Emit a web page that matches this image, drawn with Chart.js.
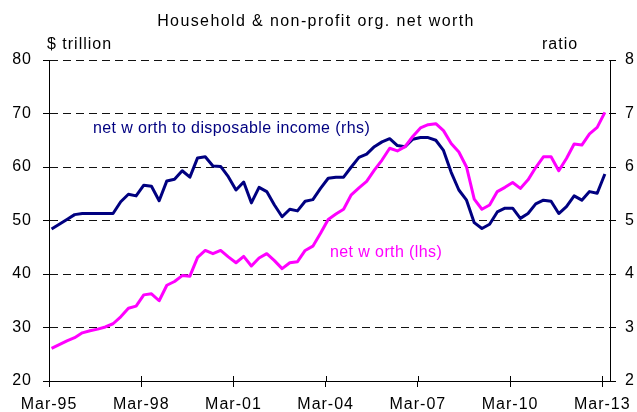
<!DOCTYPE html>
<html>
<head>
<meta charset="utf-8">
<script src="https://cdn.jsdelivr.net/npm/chart.js@4/dist/chart.umd.min.js"></script>
<style>
  html, body { margin: 0; padding: 0; background: #fff; }
  #wrap { width: 637px; height: 412px; }
</style>
</head>
<body>
<div id="wrap"><canvas id="c" width="637" height="412"></canvas></div>
<script>
// ---- data (quarterly, Mar-95 .. Mar-13) ----
const years = ['95','96','97','98','99','00','01','02','03','04','05','06','07','08','09','10','11','12','13'];
const quarterMonths = ['Mar','Jun','Sep','Dec'];
const quarters = [];
years.forEach(y => quarterMonths.forEach(m => { if (quarters.length < 73) quarters.push(m + '-' + y); }));

// Net worth, $ trillion (lhs)
const netWorth = [26.1, 26.8, 27.5, 28.1, 29.0, 29.4, 29.7, 30.1, 30.7, 32.0,
                  33.6, 34.0, 36.1, 36.3, 35.0, 37.9, 38.6, 39.7, 39.6, 43.1,
                  44.4, 43.8, 44.4, 43.2, 42.1, 43.3, 41.5, 43.0, 43.8, 42.5,
                  41.0, 42.1, 42.3, 44.4, 45.2, 47.6, 50.2, 51.2, 52.1, 54.8,
                  56.1, 57.3, 59.4, 61.3, 63.5, 63.0, 63.8, 65.7, 67.3, 67.9,
                  68.1, 66.8, 64.4, 62.8, 60.0, 54.0, 52.1, 52.9, 55.4, 56.2,
                  57.1, 56.0, 57.6, 59.9, 61.9, 61.9, 59.3, 61.6, 64.3, 64.1,
                  66.2, 67.4, 70.2];

// Net worth to disposable income ratio (rhs)
const ratio = [4.84, 4.93, 5.02, 5.11, 5.13, 5.13, 5.13, 5.13, 5.13, 5.35,
               5.49, 5.46, 5.66, 5.64, 5.37, 5.74, 5.77, 5.93, 5.81, 6.17,
               6.19, 6.02, 6.01, 5.82, 5.57, 5.72, 5.33, 5.62, 5.54, 5.29,
               5.07, 5.21, 5.18, 5.36, 5.39, 5.60, 5.79, 5.81, 5.81, 6.00,
               6.18, 6.24, 6.38, 6.47, 6.53, 6.40, 6.38, 6.52, 6.55, 6.55,
               6.50, 6.31, 5.90, 5.57, 5.38, 4.96, 4.85, 4.93, 5.16, 5.23,
               5.23, 5.04, 5.13, 5.31, 5.38, 5.36, 5.13, 5.26, 5.46, 5.38,
               5.54, 5.51, 5.87];

const xTickLabels = ['Mar-95', 'Mar-98', 'Mar-01', 'Mar-04', 'Mar-07', 'Mar-10', 'Mar-13'];
const leftTicks = [20, 30, 40, 50, 60, 70, 80];
const rightTicks = [2, 3, 4, 5, 6, 7, 8];

const titleText = 'Household & non-profit org. net worth';
const leftUnit = '$ trillion';
const rightUnit = 'ratio';
const ratioLabel = 'net w orth to disposable income (rhs)';
const netWorthLabel = 'net w orth (lhs)';

// x position in months from Mar-95 (end of quarter month ~ +1)
const monthPos = i => 3 * i + 1;
const tickMonth = k => 36 * k;

const FONT = '"Liberation Sans", Arial, sans-serif';

const overlay = {
  id: 'overlay',
  beforeDraw(chart) {
    chart.ctx.letterSpacing = '1px';
  },
  afterDraw(chart) {
    const ctx = chart.ctx;
    const area = chart.chartArea;
    const xs = chart.scales.x;
    ctx.save();
    // x tick marks crossing into the plot
    ctx.strokeStyle = '#000';
    ctx.lineWidth = 1;
    ctx.beginPath();
    xTickLabels.forEach((_, k) => {
      const px = Math.round(xs.getPixelForValue(tickMonth(k))) + 0.5;
      ctx.moveTo(px, area.bottom - 5);
      ctx.lineTo(px, area.bottom);
    });
    ctx.stroke();

    ctx.fillStyle = '#000';
    ctx.textBaseline = 'alphabetic';
    ctx.font = '16px ' + FONT;
    ctx.letterSpacing = '1.4px';
    ctx.textAlign = 'center';
    ctx.fillText(titleText, 316, 26);
    ctx.letterSpacing = '1px';
    ctx.textAlign = 'left';
    ctx.fillText(leftUnit, 47, 49);
    ctx.fillText(rightUnit, 542, 49);

    ctx.letterSpacing = '0.4px';
    ctx.fillStyle = '#000080';
    ctx.fillText(ratioLabel, 93, 133);
    ctx.fillStyle = '#FF00FF';
    ctx.fillText(netWorthLabel, 330, 257);
    ctx.restore();
  }
};

new Chart(document.getElementById('c'), {
  type: 'line',
  data: {
    datasets: [
      {
        label: netWorthLabel,
        data: netWorth.map((v, i) => ({ x: monthPos(i), y: v })),
        borderColor: '#FF00FF',
        backgroundColor: '#FF00FF',
        borderWidth: 3,
        pointRadius: 0,
        tension: 0,
        borderJoinStyle: 'round',
        yAxisID: 'y'
      },
      {
        label: ratioLabel,
        data: ratio.map((v, i) => ({ x: monthPos(i), y: v })),
        borderColor: '#000080',
        backgroundColor: '#000080',
        borderWidth: 3,
        pointRadius: 0,
        tension: 0,
        borderJoinStyle: 'round',
        yAxisID: 'y1'
      }
    ]
  },
  options: {
    responsive: false,
    devicePixelRatio: 1,
    animation: false,
    events: [],
    layout: { padding: { top: 60, left: 0, right: 0, bottom: 0 } },
    plugins: {
      legend: { display: false },
      title: { display: false },
      tooltip: { enabled: false }
    },
    scales: {
      x: {
        type: 'linear',
        min: 0,
        max: 219,
        afterBuildTicks: s => { s.ticks = xTickLabels.map((_, k) => ({ value: tickMonth(k) })); },
        afterFit: s => { s.height = 31; },
        ticks: {
          autoSkip: false,
          maxRotation: 0,
          padding: 8,
          color: '#000',
          font: { family: FONT, size: 16 },
          callback: (v) => xTickLabels[Math.round(v / 36)]
        },
        grid: { display: true, drawOnChartArea: false, drawTicks: true, tickLength: 6, color: '#000', tickColor: '#000' },
        border: { display: true, color: '#000', width: 1 }
      },
      y: {
        position: 'left',
        min: 20,
        max: 80,
        afterBuildTicks: s => { s.ticks = leftTicks.map(v => ({ value: v })); },
        afterFit: s => { s.width = 49; },
        ticks: { padding: 11, color: '#000', font: { family: FONT, size: 16 } },
        grid: { display: true, drawOnChartArea: true, drawTicks: true, tickLength: 6, color: '#111', tickColor: '#000', lineWidth: 1 },
        border: { display: true, color: '#000', width: 1, dash: [8, 5] }
      },
      y1: {
        position: 'right',
        min: 2,
        max: 8,
        afterBuildTicks: s => { s.ticks = rightTicks.map(v => ({ value: v })); },
        afterFit: s => { s.width = 27; },
        ticks: { padding: 9, color: '#000', font: { family: FONT, size: 16 } },
        grid: { display: true, drawOnChartArea: false, drawTicks: true, tickLength: 6, color: '#000', tickColor: '#000' },
        border: { display: true, color: '#000', width: 1 }
      }
    }
  },
  plugins: [overlay]
});
</script>
</body>
</html>
